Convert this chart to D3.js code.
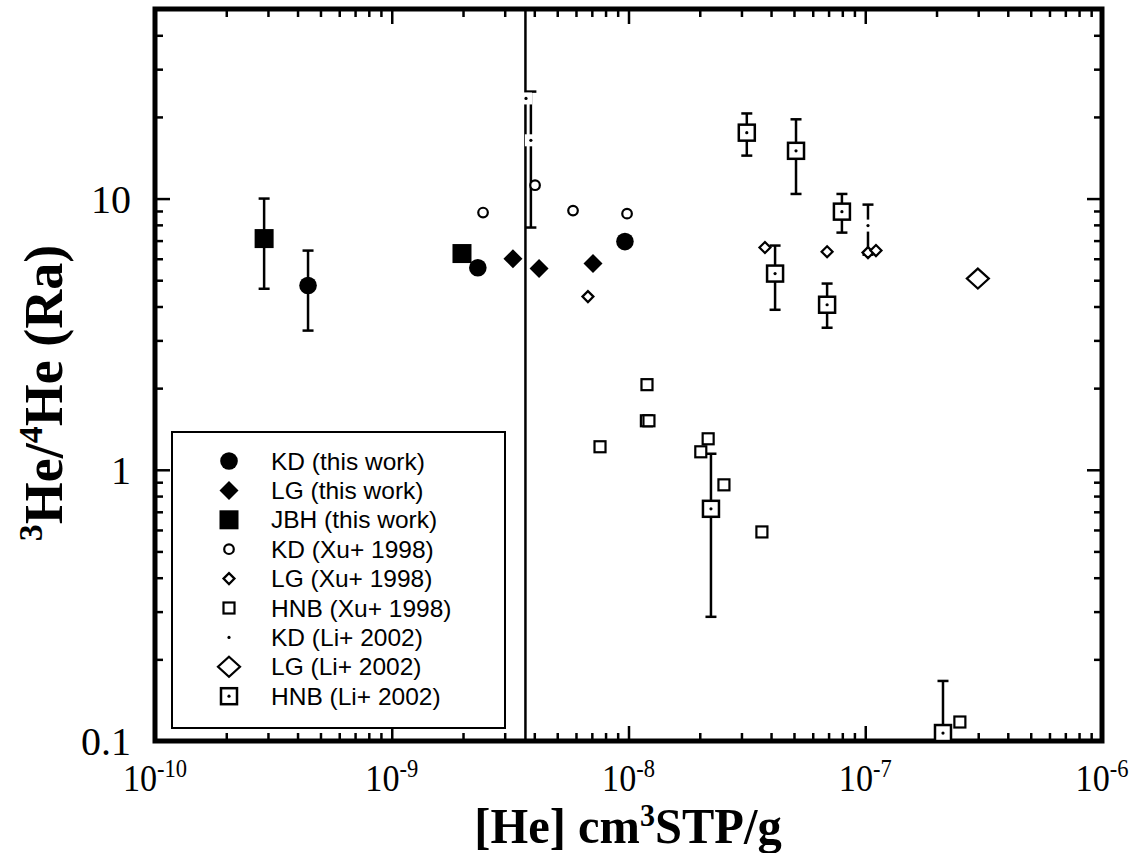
<!DOCTYPE html>
<html><head><meta charset="utf-8">
<script src="https://cdn.jsdelivr.net/npm/d3@7"></script>
<style>body{margin:0;background:#fff}</style>
</head><body>
<svg id="chart" width="1142" height="853"></svg>
<script>
// ---- data ----
const kdThisX = [4.43e-10, 2.31e-9, 9.66e-9];
const kdThisY = [4.78, 5.56, 6.94];
const kdThisLo = [3.26, null, null];
const kdThisHi = [6.43, null, null];

const lgThisX = [3.25e-9, 4.19e-9, 7.08e-9];
const lgThisY = [6.00, 5.52, 5.76];

const jbhThisX = [2.89e-10, 1.98e-9];
const jbhThisY = [7.12, 6.27];
const jbhThisLo = [4.65, null];
const jbhThisHi = [10.0, null];

const kdXuX = [2.43e-9, 4.03e-9, 5.83e-9, 9.86e-9];
const kdXuY = [8.88, 11.2, 9.03, 8.80];

const lgXuX = [6.74e-9, 3.77e-8, 6.90e-8, 1.027e-7, 1.11e-7];
const lgXuY = [4.35, 6.60, 6.37, 6.32, 6.43];

const hnbXuX = [1.197e-8, 1.19e-8, 1.22e-8, 7.58e-9, 2.17e-8, 2.02e-8, 2.53e-8, 3.66e-8, 2.51e-7];
const hnbXuY = [2.06, 1.516, 1.516, 1.216, 1.301, 1.165, 0.880, 0.590, 0.1175];

const kdLiX = [3.69e-9, 3.87e-9, 1.027e-7];
const kdLiY = [23.4, 16.4, 7.95];
const kdLiLo = [null, 7.82, 6.21];
const kdLiHi = [null, 24.8, 9.50];

const lgLiX = [2.99e-7];
const lgLiY = [5.07];

const hnbLiX = [3.16e-8, 5.10e-8, 7.97e-8, 4.16e-8, 6.90e-8, 2.23e-8, 2.13e-7];
const hnbLiY = [17.5, 15.0, 8.95, 5.29, 4.06, 0.718, 0.107];
const hnbLiLo = [14.4, 10.4, 7.49, 3.89, 3.34, 0.287, 0.1];
const hnbLiHi = [20.6, 19.6, 10.4, 6.71, 4.86, 1.146, 0.1665];

const refLineX = 3.67e-9;

const xMajor = [1e-10, 1e-9, 1e-8, 1e-7, 1e-6];
const xTickExps = ["-10", "-9", "-8", "-7", "-6"];
const yMajor = [0.1, 1, 10];
const yTickLabels = ["0.1", "1", "10"];

const legendLabels = ["KD (this work)", "LG (this work)", "JBH (this work)",
  "KD (Xu+ 1998)", "LG (Xu+ 1998)", "HNB (Xu+ 1998)",
  "KD (Li+ 2002)", "LG (Li+ 2002)", "HNB (Li+ 2002)"];
const legendTypes = ["fcircle", "fdiamond", "fsquare", "ocircle", "odiamond", "osquare", "dot", "bdiamond", "dsquare"];

// ---- layout ----
const svg = d3.select("#chart");
const L = 155, R = 1102, T = 9, B = 741;
const x = d3.scaleLog().domain([1e-10, 1e-6]).range([L, R]);
const y = d3.scaleLog().domain([0.1, 50]).range([B, T]);

const xMinor = [];
for (let e = -10; e < -6; e++) for (let m = 2; m <= 9; m++) xMinor.push(m * Math.pow(10, e));
const yMinor = [];
for (let e = -1; e < 2; e++) for (let m = 2; m <= 9; m++) { const v = m * Math.pow(10, e); if (v < 50) yMinor.push(v); }

function styleAxis(g) {
  g.select(".domain").remove();
  g.selectAll("line").attr("stroke", "#000").attr("stroke-width", 2.5);
}
svg.append("g").attr("transform", `translate(0,${B})`).call(d3.axisBottom(x).tickValues(xMajor).tickSize(-15).tickFormat("")).call(styleAxis);
svg.append("g").attr("transform", `translate(0,${B})`).call(d3.axisBottom(x).tickValues(xMinor).tickSize(-8).tickFormat("")).call(styleAxis);
svg.append("g").attr("transform", `translate(0,${T})`).call(d3.axisTop(x).tickValues(xMajor).tickSize(-15).tickFormat("")).call(styleAxis);
svg.append("g").attr("transform", `translate(0,${T})`).call(d3.axisTop(x).tickValues(xMinor).tickSize(-8).tickFormat("")).call(styleAxis);
svg.append("g").attr("transform", `translate(${L},0)`).call(d3.axisLeft(y).tickValues(yMajor).tickSize(-15).tickFormat("")).call(styleAxis);
svg.append("g").attr("transform", `translate(${L},0)`).call(d3.axisLeft(y).tickValues(yMinor).tickSize(-8).tickFormat("")).call(styleAxis);
svg.append("g").attr("transform", `translate(${R},0)`).call(d3.axisRight(y).tickValues(yMajor).tickSize(-15).tickFormat("")).call(styleAxis);
svg.append("g").attr("transform", `translate(${R},0)`).call(d3.axisRight(y).tickValues(yMinor).tickSize(-8).tickFormat("")).call(styleAxis);

// tick labels
const serif = "'Liberation Serif','Times New Roman',serif";
const xl = svg.append("g").selectAll("text").data(xMajor).join("text")
  .attr("transform", d => `translate(${x(d)},791) scale(0.9,1)`).attr("text-anchor", "middle")
  .attr("font-family", serif).attr("font-size", 38).attr("fill", "#000");
xl.append("tspan").text("10");
xl.append("tspan").attr("font-size", 25).attr("dy", -14).text((d, i) => xTickExps[i]);

svg.append("g").selectAll("text").data(yMajor).join("text")
  .attr("x", 131).attr("y", d => y(d) + 14).attr("text-anchor", "end")
  .attr("font-family", serif).attr("font-size", 40).attr("fill", "#000")
  .text((d, i) => yTickLabels[i]);

// axis titles
const xt = svg.append("text").attr("transform", "translate(628,843) scale(0.97,1)").attr("text-anchor", "middle")
  .attr("font-family", serif).attr("font-weight", "bold").attr("font-size", 50).attr("fill", "#000");
xt.append("tspan").text("[He] cm");
xt.append("tspan").attr("font-size", 31).attr("dy", -17).text("3");
xt.append("tspan").attr("dy", 17).text("STP/g");

const yt = svg.append("text").attr("transform", "translate(62,393) rotate(-90)").attr("text-anchor", "middle")
  .attr("font-family", serif).attr("font-weight", "bold").attr("font-size", 54).attr("fill", "#000");
yt.append("tspan").attr("font-size", 34).attr("dy", -20).text("3");
yt.append("tspan").attr("dy", 20).text("He/");
yt.append("tspan").attr("font-size", 34).attr("dy", -20).text("4");
yt.append("tspan").attr("dy", 20).text("He (Ra)");

// reference vertical line
svg.append("line").attr("x1", x(refLineX)).attr("x2", x(refLineX)).attr("y1", T).attr("y2", B)
  .attr("stroke", "#000").attr("stroke-width", 2.5);

// frame
svg.append("rect").attr("x", L).attr("y", T).attr("width", R - L).attr("height", B - T)
  .attr("fill", "none").attr("stroke", "#000").attr("stroke-width", 5);

// error bars
function errBars(xs, ys, lo, hi) {
  const g = svg.append("g").attr("stroke", "#000").attr("stroke-width", 2.5);
  xs.forEach((xv, i) => {
    if (lo[i] == null) return;
    const px = x(xv);
    g.append("line").attr("x1", px).attr("x2", px).attr("y1", y(lo[i])).attr("y2", y(hi[i]));
    g.append("line").attr("x1", px - 5.5).attr("x2", px + 5.5).attr("y1", y(hi[i])).attr("y2", y(hi[i]));
    if (lo[i] > 0.1) g.append("line").attr("x1", px - 5.5).attr("x2", px + 5.5).attr("y1", y(lo[i])).attr("y2", y(lo[i]));
  });
}
errBars(kdThisX, kdThisY, kdThisLo, kdThisHi);
errBars(jbhThisX, jbhThisY, jbhThisLo, jbhThisHi);
errBars(kdLiX, kdLiY, kdLiLo, kdLiHi);
errBars(hnbLiX, hnbLiY, hnbLiLo, hnbLiHi);

// markers
function marker(g, type, px, py, legend) {
  const s = g.append("g").attr("transform", `translate(${px},${py})`);
  switch (type) {
    case "fcircle": s.append("circle").attr("r", 8.8).attr("fill", "#000"); break;
    case "fdiamond": s.append("path").attr("d", "M0,-9.5L9.5,0L0,9.5L-9.5,0Z").attr("fill", "#000"); break;
    case "fsquare": s.append("rect").attr("x", -9.5).attr("y", -9.5).attr("width", 19).attr("height", 19).attr("fill", "#000"); break;
    case "ocircle": s.append("circle").attr("r", 4.8).attr("fill", "#fff").attr("stroke", "#000").attr("stroke-width", 2.2); break;
    case "odiamond": s.append("path").attr("d", "M0,-5.5L5.5,0L0,5.5L-5.5,0Z").attr("fill", "#fff").attr("stroke", "#000").attr("stroke-width", 2.2); break;
    case "osquare": s.append("rect").attr("x", -5.5).attr("y", -5.5).attr("width", 11).attr("height", 11).attr("fill", "#fff").attr("stroke", "#000").attr("stroke-width", 2.2); break;
    case "dot":
      if (!legend) s.append("rect").attr("x", -6).attr("y", -6).attr("width", 12).attr("height", 12).attr("fill", "#fff");
      s.append("circle").attr("r", 1.6).attr("fill", "#000"); break;
    case "bdiamond": s.append("path").attr("d", "M0,-10L11,0L0,10L-11,0Z").attr("fill", "#fff").attr("stroke", "#000").attr("stroke-width", 2.2); break;
    case "dsquare":
      s.append("rect").attr("x", -8).attr("y", -8).attr("width", 16).attr("height", 16).attr("fill", "#fff").attr("stroke", "#000").attr("stroke-width", 2.5);
      s.append("circle").attr("r", 1.6).attr("fill", "#000"); break;
  }
}
function series(xs, ys, type) {
  const g = svg.append("g");
  xs.forEach((xv, i) => marker(g, type, x(xv), y(ys[i]), false));
}
series(hnbXuX, hnbXuY, "osquare");
series(lgXuX, lgXuY, "odiamond");
series(kdLiX, kdLiY, "dot");
series(kdXuX, kdXuY, "ocircle");
series(hnbLiX, hnbLiY, "dsquare");
series(lgLiX, lgLiY, "bdiamond");
series(kdThisX, kdThisY, "fcircle");
series(lgThisX, lgThisY, "fdiamond");
series(jbhThisX, jbhThisY, "fsquare");

// legend
const lg = svg.append("g");
lg.append("rect").attr("x", 172).attr("y", 432).attr("width", 333).attr("height", 296)
  .attr("fill", "#fff").attr("stroke", "#000").attr("stroke-width", 2);
legendLabels.forEach((lab, i) => {
  const cy = 461 + i * 29.4;
  marker(lg, legendTypes[i], 229, cy, true);
  lg.append("text").attr("x", 271).attr("y", cy + 8.5)
    .attr("font-family", "'Liberation Sans',Arial,sans-serif").attr("font-size", 24.5).attr("fill", "#000").text(lab);
});
</script>
</body></html>
